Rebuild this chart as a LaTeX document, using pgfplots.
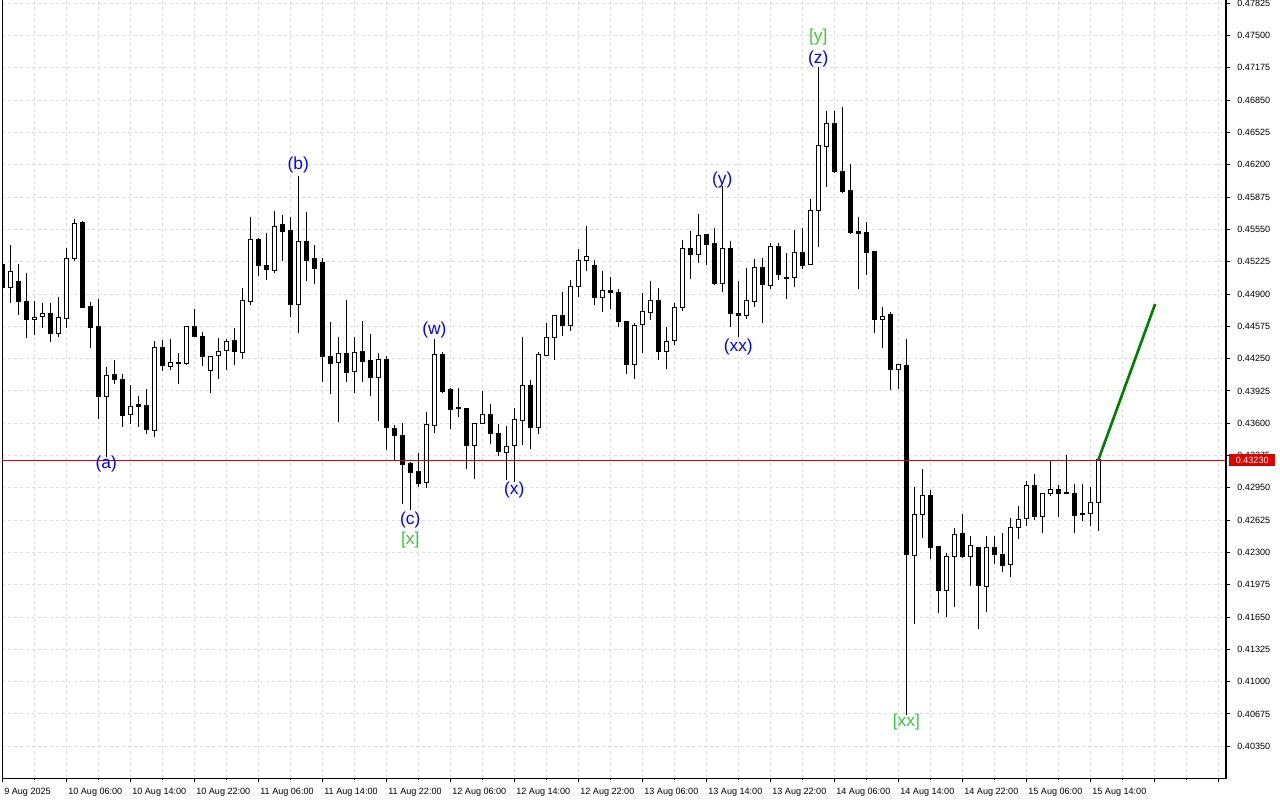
\documentclass[border=0pt]{standalone}
\usepackage{pgfplots}
\pgfplotsset{compat=1.18}
\usepackage{pgfplotstable}
\usepackage{fontspec}
\setmainfont{Liberation Sans}
\definecolor{gridc}{RGB}{222,222,222}
\definecolor{lvlred}{RGB}{220,0,0}
\definecolor{wblue}{RGB}{0,0,255}
\definecolor{wgreen}{RGB}{60,200,60}
\definecolor{tgreen}{RGB}{0,128,0}

\pgfplotstableread{
k O H L C
0 0.45199 0.45262 0.44910 0.44967
1 0.44967 0.45393 0.44806 0.45128
2 0.45021 0.45202 0.44689 0.44822
3 0.44829 0.45111 0.44460 0.44645
4 0.44645 0.44829 0.44487 0.44665
5 0.44675 0.44809 0.44561 0.44706
6 0.44706 0.44809 0.44420 0.44504
7 0.44504 0.44870 0.44470 0.44665
8 0.44655 0.45360 0.44561 0.45259
9 0.45255 0.45654 0.45232 0.45611
10 0.45624 0.45634 0.44758 0.44762
11 0.44769 0.44819 0.44359 0.44561
12 0.44568 0.44850 0.43645 0.43866
13 0.43866 0.44168 0.43263 0.44082
14 0.44085 0.44236 0.43997 0.44037
15 0.44042 0.44095 0.43565 0.43675
16 0.43689 0.43984 0.43592 0.43770
17 0.43783 0.43873 0.43565 0.43766
18 0.43773 0.43944 0.43488 0.43534
19 0.43528 0.44427 0.43464 0.44363
20 0.44363 0.44437 0.44128 0.44178
21 0.44172 0.44447 0.44135 0.44213
22 0.44202 0.44306 0.43997 0.44213
23 0.44198 0.44578 0.44190 0.44568
24 0.44568 0.44752 0.44465 0.44470
25 0.44477 0.44517 0.44178 0.44269
26 0.44128 0.44280 0.43907 0.44273
27 0.44283 0.44457 0.44048 0.44323
28 0.44333 0.44447 0.44138 0.44424
29 0.44427 0.44561 0.44188 0.44319
30 0.44309 0.44957 0.44249 0.44836
31 0.44822 0.45675 0.44792 0.45450
32 0.45453 0.45466 0.45084 0.45185
33 0.45189 0.45514 0.45044 0.45144
34 0.45134 0.45732 0.45114 0.45581
35 0.45604 0.45695 0.45235 0.45527
36 0.45534 0.45675 0.44671 0.44792
37 0.44792 0.46087 0.44510 0.45430
38 0.45430 0.45725 0.45034 0.45235
39 0.45262 0.45393 0.45000 0.45161
40 0.45212 0.45262 0.44017 0.44269
41 0.44273 0.44618 0.43897 0.44202
42 0.44213 0.44467 0.43615 0.44303
43 0.44303 0.44839 0.44017 0.44112
44 0.44122 0.44467 0.43904 0.44313
45 0.44319 0.44628 0.44011 0.44223
46 0.44226 0.44497 0.43877 0.44058
47 0.44062 0.44309 0.43625 0.44243
48 0.44243 0.44276 0.43330 0.43559
49 0.43548 0.43579 0.43226 0.43474
50 0.43478 0.43599 0.42784 0.43186
51 0.43192 0.43212 0.42726 0.43102
52 0.43109 0.43300 0.42958 0.42991
53 0.43005 0.43709 0.42945 0.43589
54 0.43579 0.44447 0.43504 0.44293
55 0.44296 0.44319 0.43907 0.43917
56 0.43934 0.43951 0.43544 0.43740
57 0.43753 0.43949 0.43665 0.43750
58 0.43750 0.43755 0.43142 0.43377
59 0.43377 0.43605 0.43041 0.43599
60 0.43599 0.43924 0.43595 0.43689
61 0.43689 0.43793 0.43388 0.43494
62 0.43498 0.43589 0.43270 0.43313
63 0.43307 0.43572 0.43028 0.43367
64 0.43377 0.43753 0.43011 0.43639
65 0.43629 0.44470 0.43377 0.43984
66 0.43984 0.44034 0.43340 0.43555
67 0.43555 0.44319 0.43494 0.44293
68 0.44286 0.44608 0.44276 0.44464
69 0.44464 0.44690 0.44239 0.44686
70 0.44686 0.44920 0.44480 0.44581
71 0.44581 0.45041 0.44531 0.44977
72 0.44977 0.45350 0.44873 0.45235
73 0.45239 0.45587 0.45131 0.45275
74 0.45189 0.45237 0.44794 0.44863
75 0.44867 0.45134 0.44719 0.44930
76 0.44930 0.45068 0.44749 0.44913
77 0.44917 0.44947 0.44571 0.44621
78 0.44628 0.44630 0.44098 0.44195
79 0.44192 0.44611 0.44042 0.44585
80 0.44595 0.44907 0.44309 0.44726
81 0.44716 0.45031 0.44641 0.44839
82 0.44839 0.44957 0.44239 0.44319
83 0.44323 0.44565 0.44142 0.44424
84 0.44434 0.44806 0.44384 0.44766
85 0.44766 0.45440 0.44732 0.45360
86 0.45360 0.45531 0.45054 0.45299
87 0.45299 0.45702 0.45209 0.45490
88 0.45496 0.45500 0.45192 0.45400
89 0.45403 0.45564 0.44987 0.45007
90 0.45007 0.45986 0.44923 0.45360
91 0.45360 0.45433 0.44571 0.44706
92 0.44706 0.45031 0.44464 0.44686
93 0.44686 0.45158 0.44645 0.44839
94 0.44826 0.45249 0.44772 0.45168
95 0.45168 0.45259 0.44611 0.44993
96 0.44987 0.45410 0.44953 0.45380
97 0.45380 0.45416 0.45041 0.45098
98 0.45068 0.45312 0.44846 0.45054
99 0.45068 0.45541 0.44973 0.45322
100 0.45322 0.45561 0.45154 0.45189
101 0.45199 0.45853 0.45189 0.45742
102 0.45742 0.47181 0.45376 0.46396
103 0.46386 0.46741 0.45979 0.46617
104 0.46617 0.46741 0.46120 0.46130
105 0.46137 0.46778 0.45919 0.45929
106 0.45943 0.46205 0.45501 0.45517
107 0.45524 0.45675 0.44953 0.45511
108 0.45514 0.45621 0.45094 0.45319
109 0.45325 0.45335 0.44510 0.44645
110 0.44645 0.44769 0.44359 0.44678
111 0.44689 0.44722 0.43934 0.44142
112 0.44142 0.44195 0.43944 0.44192
113 0.44185 0.44447 0.40664 0.42274
114 0.42271 0.42961 0.41579 0.42683
115 0.42683 0.43139 0.42442 0.42877
116 0.42877 0.42928 0.42233 0.42347
117 0.42361 0.42365 0.41693 0.41914
118 0.41914 0.42291 0.41653 0.42261
119 0.42261 0.42542 0.41747 0.42482
120 0.42495 0.42689 0.42240 0.42261
121 0.42261 0.42465 0.41965 0.42371
122 0.42351 0.42355 0.41526 0.41965
123 0.41955 0.42465 0.41703 0.42351
124 0.42351 0.42465 0.42183 0.42281
125 0.42281 0.42498 0.42106 0.42166
126 0.42180 0.42643 0.42055 0.42552
127 0.42552 0.42767 0.42432 0.42633
128 0.42643 0.43018 0.42568 0.42968
129 0.42968 0.43089 0.42626 0.42659
130 0.42663 0.42898 0.42498 0.42894
131 0.42894 0.43222 0.42872 0.42933
132 0.42935 0.42975 0.42659 0.42894
133 0.42898 0.43280 0.42888 0.42893
134 0.42888 0.42991 0.42498 0.42669
135 0.42696 0.42991 0.42619 0.42686
136 0.42693 0.42958 0.42568 0.42807
137 0.42804 0.43230 0.42518 0.43230
}\candles

\begin{document}
\begin{tikzpicture}
\useasboundingbox (0,0) rectangle (960pt,600pt);
\begin{axis}[
  at={(1.5pt,16.5pt)}, anchor=south west,
  scale only axis, width=918pt, height=583.5pt,
  xmin=-0.0375, xmax=152.96, ymin=0.40030, ymax=0.47858,
  axis background/.style={fill=white},
  axis line style={black, line width=0.75pt},
  tick align=outside,
  xtick pos=bottom, ytick pos=right, yticklabel pos=right,
  major tick length=3pt, minor tick length=1.5pt,
  tick style={black, line width=0.6pt},
  xtick={0,8,...,152},
  minor xtick={4,12,...,148},
  xticklabels={9 Aug 2025,10 Aug 06:00,10 Aug 14:00,10 Aug 22:00,11 Aug 06:00,11 Aug 14:00,11 Aug 22:00,12 Aug 06:00,12 Aug 14:00,12 Aug 22:00,13 Aug 06:00,13 Aug 14:00,13 Aug 22:00,14 Aug 06:00,14 Aug 14:00,14 Aug 22:00,15 Aug 06:00,15 Aug 14:00,{},{}},
  ytick={0.40350,0.40675,0.41000,0.41325,0.41650,0.41975,0.42300,0.42625,0.42950,0.43275,0.43600,0.43925,0.44250,0.44575,0.44900,0.45225,0.45550,0.45875,0.46200,0.46525,0.46850,0.47175,0.47500,0.47825},
  yticklabels={0.40350,0.40675,0.41000,0.41325,0.41650,0.41975,0.42300,0.42625,0.42950,0.43275,0.43600,0.43925,0.44250,0.44575,0.44900,0.45225,0.45550,0.45875,0.46200,0.46525,0.46850,0.47175,0.47500,0.47825},
  tick label style={font=\fontsize{6.8}{8}\selectfont, black},
  xticklabel style={anchor=north west, xshift=-2pt, yshift=-1pt},
  yticklabel style={anchor=west, xshift=2pt},
  grid=both,
  grid style={gridc, line width=0.6pt, dash pattern=on 2.5pt off 2pt},
  minor grid style={gridc, line width=0.6pt, dash pattern=on 2.5pt off 2pt},
]
% wicks
\addplot[draw=none, mark=none, forget plot,
  error bars/.cd, y dir=plus, y explicit, error mark=none,
  error bar style={draw=black, solid, line width=0.75pt}]
  table[x=k, y=L, y error expr=\thisrow{H}-\thisrow{L}] {\candles};
% bodies (stacked: invisible base, bearish, bullish)
\addplot[ybar, bar shift=0pt, bar width=3.2pt, stack plots=y, draw=none, fill=none, forget plot]
  table[x=k, y expr={min(\thisrow{O},\thisrow{C})}] {\candles};
\addplot[ybar, bar shift=0pt, bar width=3.2pt, stack plots=y, draw=black, fill=black, line width=0.75pt, forget plot]
  table[x=k, y expr={max(\thisrow{O}-\thisrow{C},0)}] {\candles};
\addplot[ybar, bar shift=0pt, bar width=3.2pt, stack plots=y, draw=black, fill=white, line width=0.75pt, forget plot]
  table[x=k, y expr={max(\thisrow{C}-\thisrow{O},0)}] {\candles};
% current price level
\addplot[draw=lvlred, color=lvlred, solid, line width=0.6pt, mark=none, stack plots=false, forget plot] coordinates {(-1,0.4323) (160,0.4323)};
% projection
\addplot[draw=tgreen, line width=2pt, mark=none, stack plots=false, forget plot] coordinates {(137,0.4323) (144.1,0.44799)};
% wave labels
\node[wblue, font=\fontsize{13}{14}\selectfont] at (axis cs:13,0.43189) {(a)};
\node[wblue, font=\fontsize{13}{14}\selectfont] at (axis cs:37,0.46198) {(b)};
\node[wblue, font=\fontsize{13}{14}\selectfont] at (axis cs:51,0.42626) {(c)};
\node[wgreen, font=\fontsize{13}{14}\selectfont] at (axis cs:51,0.42425) {[x]};
\node[wblue, font=\fontsize{13}{14}\selectfont] at (axis cs:54,0.44538) {(w)};
\node[wblue, font=\fontsize{13}{14}\selectfont] at (axis cs:64,0.42928) {(x)};
\node[wblue, font=\fontsize{13}{14}\selectfont] at (axis cs:90,0.46047) {(y)};
\node[wblue, font=\fontsize{13}{14}\selectfont] at (axis cs:92,0.44367) {(xx)};
\node[wgreen, font=\fontsize{13}{14}\selectfont] at (axis cs:102,0.47486) {[y]};
\node[wblue, font=\fontsize{13}{14}\selectfont] at (axis cs:102,0.47264) {(z)};
\node[wgreen, font=\fontsize{13}{14}\selectfont] at (axis cs:113,0.40593) {[xx]};
\draw[black, line width=1.5pt] (rel axis cs:1,0) -- (rel axis cs:1,1);
\coordinate (rl) at (axis cs:152.96,0.4323);
\end{axis}
\node[fill=lvlred, text=white, font=\fontsize{6.8}{8}\selectfont, anchor=west, inner sep=0pt,
  minimum width=34.5pt, minimum height=8.6pt, xshift=2.2pt] at (rl) {0.43230};
\end{tikzpicture}
\end{document}
